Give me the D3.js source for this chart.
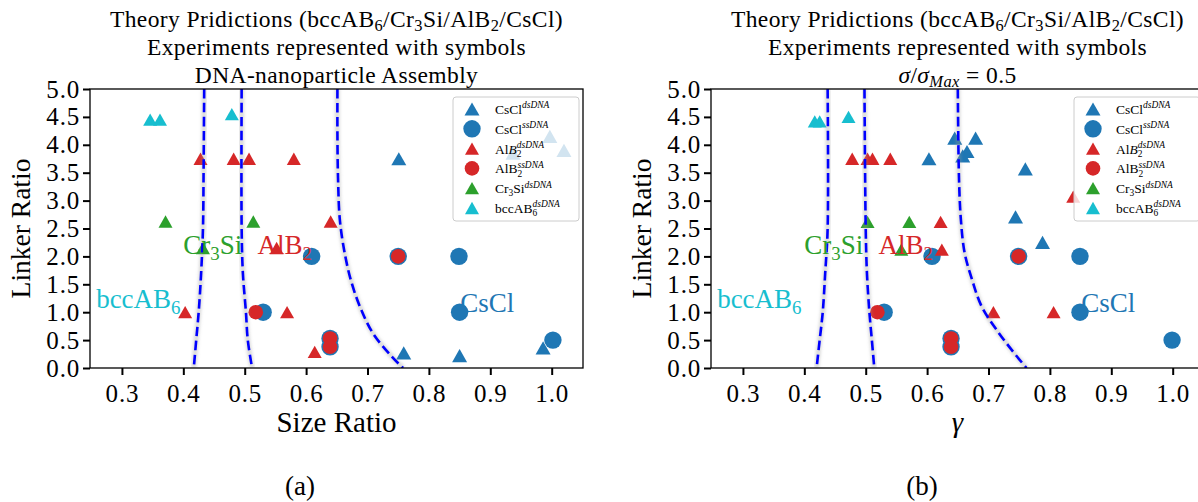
<!DOCTYPE html>
<html>
<head>
<meta charset="utf-8">
<script src="https://cdn.jsdelivr.net/npm/d3@7"></script>
<style>
body { margin: 0; background: #fff; }
text { font-family: "Liberation Serif", "Times New Roman", serif; fill: #000; }
</style>
</head>
<body>
<svg id="fig" width="1198" height="502"></svg>
<script>
// ---- data ----
const xTicks = [0.3, 0.4, 0.5, 0.6, 0.7, 0.8, 0.9, 1.0];
const yTicks = [0, 0.5, 1, 1.5, 2, 2.5, 3, 3.5, 4, 4.5, 5];

// panel (a): size ratio vs linker ratio
const aCsClDs = [[0.751, 3.75], [0.759, 0.27], [0.85, 0.22], [0.986, 0.36], [0.997, 4.15], [1.02, 3.9], [0.937, 3.85]];
const aCsClSs = [[0.609, 2.0], [0.53, 1.0], [0.639, 0.53], [0.639, 0.38], [0.75, 2.0], [0.849, 2.0], [0.85, 1.0], [1.002, 0.5]];
const aAlB2Ds = [[0.428, 3.75], [0.482, 3.75], [0.507, 3.75], [0.58, 3.75], [0.64, 2.625], [0.552, 2.15], [0.403, 1.0], [0.569, 1.0], [0.614, 0.29]];
const aAlB2Ss = [[0.518, 1.0], [0.639, 0.53], [0.639, 0.38], [0.75, 2.0]];
const aCr3SiDs = [[0.371, 2.625], [0.514, 2.625], [0.432, 2.15]];
const aBccDs = [[0.346, 4.45], [0.362, 4.45], [0.479, 4.55]];

const aBound1 = [[0.434, 5], [0.433, 3.5], [0.432, 2.5], [0.429, 1.7], [0.425, 1.0], [0.421, 0.5], [0.417, 0]];
const aBound2 = [[0.495, 5], [0.495, 2.5], [0.497, 1.7], [0.502, 1.0], [0.505, 0.5], [0.512, 0]];
const aBound3 = [[0.651, 5], [0.651, 4.2], [0.652, 3.4], [0.655, 2.65], [0.663, 2.05], [0.673, 1.57], [0.688, 1.09], [0.709, 0.62], [0.74, 0.2], [0.758, 0]];

// panel (b): gamma vs linker ratio
const bCsClDs = [[0.603, 3.75], [0.645, 4.12], [0.658, 3.8], [0.665, 3.88], [0.679, 4.12], [0.76, 3.57], [0.744, 2.71], [0.788, 2.25]];
const bCsClSs = [[0.608, 2.0], [0.53, 1.0], [0.639, 0.53], [0.639, 0.38], [0.749, 2.0], [0.849, 2.0], [0.849, 1.0], [0.999, 0.5]];
const bAlB2Ds = [[0.478, 3.75], [0.503, 3.75], [0.511, 3.75], [0.54, 3.75], [0.622, 2.62], [0.624, 2.12], [0.708, 1.0], [0.806, 1.0], [0.838, 3.07]];
const bAlB2Ss = [[0.519, 1.0], [0.639, 0.53], [0.639, 0.38], [0.749, 2.0]];
const bCr3SiDs = [[0.503, 2.62], [0.571, 2.62], [0.558, 2.12]];
const bBccDs = [[0.417, 4.42], [0.425, 4.42], [0.472, 4.5]];

const bBound1 = [[0.438, 5], [0.438, 2.5], [0.434, 1.7], [0.43, 1.0], [0.425, 0.5], [0.42, 0]];
const bBound2 = [[0.498, 5], [0.5, 2.5], [0.502, 1.7], [0.506, 1.0], [0.51, 0.5], [0.514, 0]];
const bBound3 = [[0.65, 5], [0.652, 3.37], [0.655, 2.66], [0.661, 2.07], [0.673, 1.59], [0.689, 1.1], [0.716, 0.64], [0.746, 0.21], [0.762, 0]];

// phase region labels (data coords of text start)
const phaseLabelX = [0.258, 0.40, 0.521, 0.851];
const phaseLabelY = [1.08, 2.05, 2.05, 1.0];

// ---- styles ----
const seriesStyles = [
    { shape: "tri", color: "#1f77b4", size: 15, legend: [["CsCl", ""], ["dsDNA", "sup"]] },
    { shape: "circle", color: "#1f77b4", size: 8.7, legend: [["CsCl", ""], ["ssDNA", "sup"]] },
    { shape: "tri", color: "#d62728", size: 14, legend: [["Al", ""], ["B", "i"], [["2", "dsDNA"], "subsup"]] },
    { shape: "circle", color: "#d62728", size: 7.3, legend: [["AlB", ""], [["2", "ssDNA"], "subsup"]] },
    { shape: "tri", color: "#2ca02c", size: 14, legend: [["Cr", ""], ["3", "sub"], ["Si", ""], ["dsDNA", "sup"]] },
    { shape: "tri", color: "#17becf", size: 14, legend: [["bccAB", ""], [["6", "dsDNA"], "subsup"]] }
];

const phaseLabels = [
    { parts: [["bccAB", ""], ["6", "sub"]], color: "#17becf" },
    { parts: [["Cr", ""], ["3", "sub"], ["Si", ""]], color: "#2ca02c" },
    { parts: [["AlB", ""], ["2", "sub"]], color: "#d62728" },
    { parts: [["CsCl", ""]], color: "#1f77b4" }
];

const titleLine1 = [["Theory Pridictions (bccAB", ""], ["6", "sub"], ["/Cr", ""], ["3", "sub"], ["Si/AlB", ""], ["2", "sub"], ["/CsCl)", ""]];
const titleLine2 = [["Experiments represented with symbols", ""]];

const panels = [
    {
        left: 90, caption: "(a)", captionX: 300,
        xLabel: [["Size Ratio", ""]],
        line3: [["DNA-nanoparticle Assembly", ""]],
        series: [aCsClDs, aCsClSs, aAlB2Ds, aAlB2Ss, aCr3SiDs, aBccDs],
        bounds: [aBound1, aBound2, aBound3]
    },
    {
        left: 711, caption: "(b)", captionX: 922,
        xLabel: [["γ", "i"]],
        line3: [["σ", "i"], ["/", ""], ["σ", "i"], ["Max", "subi"], [" = 0.5", ""]],
        series: [bCsClDs, bCsClSs, bAlB2Ds, bAlB2Ss, bCr3SiDs, bBccDs],
        bounds: [bBound1, bBound2, bBound3]
    }
];

const svg = d3.select("#fig");
const plotTop = 89, plotBottom = 368, panelW = 493;

// soft halo behind the dashed boundaries
const defs = svg.append("defs");
defs.append("filter").attr("id", "halo").attr("x", "-20%").attr("y", "-5%").attr("width", "140%").attr("height", "110%")
    .append("feGaussianBlur").attr("stdDeviation", 1.6);

// triangle as a d3 symbol type; size = width
const triangleUp = {
    draw(ctx, w) {
        const h = w * 0.88;
        ctx.moveTo(0, -h / 2);
        ctx.lineTo(w / 2, h / 2);
        ctx.lineTo(-w / 2, h / 2);
        ctx.closePath();
    }
};

// mathtext-ish rich text via tspans
function rich(textSel, parts, size, subShift = 0.22) {
    let base = 0;
    const small = size * 0.7;
    parts.forEach(([t, kind]) => {
        if (kind === "" || kind === "i") {
            textSel.append("tspan").attr("dy", -base).attr("font-size", size)
                .attr("font-style", kind === "i" ? "italic" : null).text(t);
            base = 0;
        } else if (kind === "sub" || kind === "subi") {
            const off = size * subShift;
            textSel.append("tspan").attr("dy", off - base).attr("font-size", small)
                .attr("font-style", kind === "subi" ? "italic" : null).text(t);
            base = off;
        } else if (kind === "sup") {
            const off = -size * 0.42;
            textSel.append("tspan").attr("dy", off - base).attr("font-size", small)
                .attr("font-style", "italic").text(t);
            base = off;
        } else if (kind === "subsup") {
            const offA = size * 0.25, offB = -size * 0.42;
            const sub = textSel.append("tspan").attr("dy", offA - base).attr("font-size", small).text(t[0]);
            const w = sub.node().getComputedTextLength();
            textSel.append("tspan").attr("dx", -w).attr("dy", offB - offA).attr("font-size", small)
                .attr("font-style", "italic").text(t[1]);
            base = offB;
        }
    });
}

panels.forEach((p, pi) => {
    const x = d3.scaleLinear().domain([0.248, 1.051]).range([p.left, p.left + panelW]);
    const y = d3.scaleLinear().domain([0, 5]).range([plotBottom, plotTop]);
    const cx = p.left + panelW / 2;
    const g = svg.append("g");

    const clipId = "clip" + pi;
    g.append("clipPath").attr("id", clipId)
        .append("rect").attr("x", p.left).attr("y", plotTop).attr("width", panelW).attr("height", plotBottom - plotTop);

    // titles
    [titleLine1, titleLine2, p.line3].forEach((parts, i) => {
        const t = g.append("text").attr("x", cx).attr("y", 27 + i * 28)
            .attr("text-anchor", "middle").attr("font-size", 23.5)
            .attr("letter-spacing", 0.4);
        rich(t, parts, 23.5, 0.15);
    });

    // points
    const plot = g.append("g").attr("clip-path", `url(#${clipId})`);
    p.series.forEach((pts, si) => {
        const st = seriesStyles[si];
        if (st.shape === "circle") {
            plot.append("g").selectAll("circle").data(pts).join("circle")
                .attr("cx", d => x(d[0])).attr("cy", d => y(d[1]))
                .attr("r", st.size).attr("fill", st.color);
        } else {
            plot.append("g").selectAll("path").data(pts).join("path")
                .attr("transform", d => `translate(${x(d[0])},${y(d[1])})`)
                .attr("d", d3.symbol().type(triangleUp).size(st.size))
                .attr("fill", st.color);
        }
    });

    // phase boundaries
    const line = d3.line().x(d => x(d[0])).y(d => y(d[1])).curve(d3.curveCatmullRom);
    plot.append("g").selectAll("path").data(p.bounds).join("path")
        .attr("d", line)
        .attr("fill", "none").attr("stroke", "#999")
        .attr("stroke-opacity", 0.35).attr("stroke-width", 5)
        .attr("filter", "url(#halo)");
    plot.append("g").selectAll("path").data(p.bounds).join("path")
        .attr("d", line)
        .attr("fill", "none").attr("stroke", "#0000ff")
        .attr("stroke-width", 2.6).attr("stroke-dasharray", "9.5,4.5");

    // phase labels
    phaseLabels.forEach((lab, li) => {
        const t = plot.append("text").attr("x", x(phaseLabelX[li])).attr("y", y(phaseLabelY[li]))
            .attr("font-size", 27).style("fill", lab.color);
        rich(t, lab.parts, 27);
    });

    // axes
    const xAxis = g.append("g").attr("transform", `translate(0,${plotBottom})`)
        .call(d3.axisBottom(x).tickValues(xTicks).tickFormat(d3.format(".1f")).tickSize(7).tickPadding(9));
    const yAxis = g.append("g").attr("transform", `translate(${p.left},0)`)
        .call(d3.axisLeft(y).tickValues(yTicks).tickFormat(d3.format(".1f")).tickSize(7).tickPadding(3));
    [xAxis, yAxis].forEach(a => {
        a.select(".domain").remove();
        a.selectAll(".tick line").attr("stroke", "#000").attr("stroke-width", 2);
        a.selectAll(".tick text").attr("font-size", 25).attr("letter-spacing", 0.8)
            .attr("font-family", "'Liberation Serif', serif").attr("fill", "#000");
    });

    g.append("rect").attr("x", p.left).attr("y", plotTop).attr("width", panelW).attr("height", plotBottom - plotTop)
        .attr("fill", "none").attr("stroke", "#000").attr("stroke-width", 1.3);

    // axis labels
    const xl = g.append("text").attr("x", cx).attr("y", 432).attr("text-anchor", "middle").attr("font-size", 29);
    rich(xl, p.xLabel, 29);
    g.append("text").attr("transform", `translate(${p.left - 60},${(plotTop + plotBottom) / 2}) rotate(-90)`)
        .attr("text-anchor", "middle").attr("font-size", 27.5).text("Linker Ratio");

    g.append("text").attr("x", p.captionX).attr("y", 495).attr("text-anchor", "middle")
        .attr("font-size", 27).text(p.caption);

    // legend
    const lx = p.left + 363, ly = plotTop + 8;
    const leg = g.append("g");
    leg.append("rect").attr("x", lx).attr("y", ly).attr("width", 126).attr("height", 124).attr("rx", 3)
        .attr("fill", "#fff").attr("fill-opacity", 0.8).attr("stroke", "#cccccc").attr("stroke-width", 1);
    seriesStyles.forEach((st, i) => {
        const ry = ly + 12 + i * 19.8;
        if (st.shape === "circle") {
            leg.append("circle").attr("cx", lx + 19).attr("cy", ry).attr("r", st.size).attr("fill", st.color);
        } else {
            leg.append("path").attr("transform", `translate(${lx + 19},${ry})`)
                .attr("d", d3.symbol().type(triangleUp).size(st.size)).attr("fill", st.color);
        }
        const t = leg.append("text").attr("x", lx + 42).attr("y", ry + 5).attr("font-size", 13.5);
        rich(t, st.legend, 13.5);
    });
});
</script>
</body>
</html>
